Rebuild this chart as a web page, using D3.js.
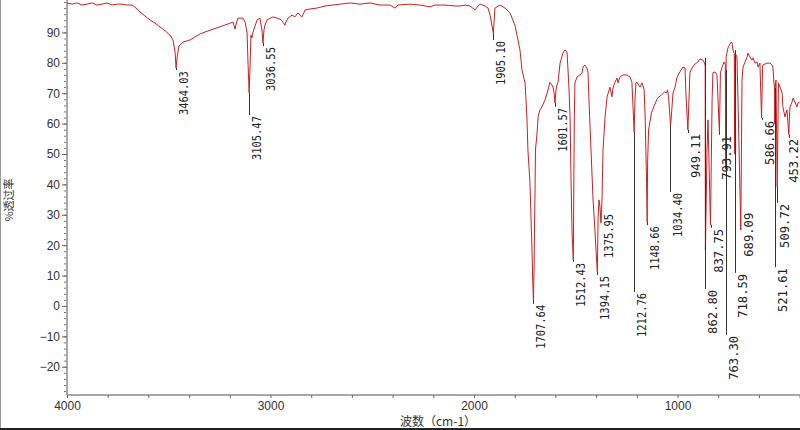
<!DOCTYPE html>
<html><head><meta charset="utf-8">
<script src="https://cdn.jsdelivr.net/npm/d3@7"></script>
<style>body{margin:0;background:#fff;} svg{display:block}</style>
</head><body><svg id="c" width="800" height="430"></svg>
<script>
const xLabelTicks = [4000, 3000, 2000, 1000];
const yLabelTicks = [-20, -10, 0, 10, 20, 30, 40, 50, 60, 70, 80, 90];
const xLabel = "波数（cm-1）";
const yLabel = "%透过率";

// spectrum: [wavenumber (cm-1), transmittance (%)]
const spectrum = [
[4000,99.7],[3975,99.3],[3951,99.7],[3926,99.0],[3902,99.3],[3877,99.7],[3853,99.0],[3828,99.3],[3803,99.7],[3779,99.0],[3754,99.3],[3730,99.3],[3705,99.0],[3681,99.0],[3661,98.0],[3641,96.7],[3617,95.4],[3592,94.1],[3568,93.1],[3543,91.8],[3518,90.5],[3494,89.1],[3479,87.5],[3469,83.6],[3464,78.3],[3459,81.6],[3450,85.5],[3430,86.8],[3396,87.5],[3346,89.5],[3307,90.5],[3263,91.5],[3224,92.4],[3184,93.4],[3174,91.1],[3170,92.4],[3160,94.7],[3135,94.7],[3125,93.4],[3115,89.8],[3111,81.0],[3105,70.1],[3101,77.6],[3096,89.1],[3091,88.2],[3086,90.1],[3071,93.1],[3066,94.1],[3052,94.7],[3042,90.8],[3037,86.5],[3032,90.8],[3027,92.4],[3017,94.1],[2988,95.1],[2953,94.4],[2939,93.4],[2929,92.4],[2924,93.4],[2914,94.7],[2894,95.7],[2880,95.1],[2865,96.4],[2845,95.1],[2830,97.4],[2806,97.7],[2772,98.0],[2732,98.7],[2693,99.0],[2658,99.3],[2609,99.7],[2560,99.3],[2511,99.7],[2462,99.0],[2413,99.0],[2388,98.0],[2373,99.0],[2315,99.3],[2265,99.0],[2216,98.4],[2192,99.0],[2142,99.0],[2093,98.7],[2069,98.7],[2044,99.0],[2020,98.7],[1995,97.4],[1980,98.7],[1970,99.3],[1946,98.7],[1931,98.0],[1921,95.7],[1905,89.8],[1897,98.0],[1872,99.0],[1848,98.0],[1823,96.4],[1799,92.4],[1784,87.5],[1774,84.2],[1764,77.6],[1749,73.4],[1740,62.2],[1735,51.3],[1725,40.5],[1720,29.3],[1715,18.4],[1711,7.6],[1708,2.0],[1705,11.9],[1703,24.0],[1700,38.2],[1698,51.3],[1690,56.9],[1685,62.2],[1676,64.5],[1666,65.5],[1651,67.8],[1636,71.1],[1627,73.6],[1617,72.7],[1612,72.0],[1607,70.4],[1602,66.8],[1597,71.1],[1592,72.7],[1587,73.6],[1577,79.9],[1563,83.2],[1553,84.2],[1543,83.6],[1538,77.6],[1533,71.1],[1528,62.2],[1523,40.5],[1518,24.0],[1512,15.1],[1510,34.9],[1507,62.2],[1504,73.4],[1494,75.3],[1479,76.0],[1469,76.7],[1464,78.6],[1455,79.3],[1445,78.3],[1440,77.0],[1435,67.8],[1425,51.3],[1415,34.9],[1405,24.0],[1399,16.8],[1394,11.2],[1390,29.3],[1386,34.9],[1381,32.6],[1376,27.3],[1371,34.9],[1366,51.3],[1356,62.2],[1346,68.8],[1332,72.0],[1322,68.8],[1317,71.7],[1307,73.6],[1297,75.0],[1292,73.4],[1283,75.3],[1268,76.0],[1248,76.0],[1233,75.3],[1224,73.6],[1213,57.2],[1209,67.8],[1204,73.4],[1199,73.6],[1184,72.0],[1174,73.4],[1164,71.1],[1159,62.2],[1152,40.5],[1149,27.6],[1147,47.0],[1142,57.9],[1128,63.5],[1113,66.1],[1098,68.4],[1079,69.4],[1064,70.4],[1054,70.1],[1049,71.1],[1044,68.8],[1034,59.2],[1027,65.5],[1022,70.1],[1012,72.0],[1002,75.3],[988,77.0],[973,78.6],[963,78.3],[958,68.8],[949,57.9],[939,76.7],[934,77.6],[919,79.3],[899,80.3],[889,81.3],[875,80.9],[867,79.9],[864,79.0],[863,18.4],[855,51.3],[850,61.2],[838,26.7],[830,67.8],[826,76.7],[816,77.0],[806,76.0],[794,57.2],[789,76.7],[781,78.6],[771,80.3],[765,79.5],[763,45.0],[761,82.0],[757,83.2],[752,84.9],[737,86.8],[732,86.5],[727,84.2],[721,83.0],[719,50.0],[717,82.0],[712,82.6],[708,81.9],[703,68.8],[689,25.0],[683,74.3],[678,78.6],[658,81.9],[654,83.2],[644,81.9],[634,80.9],[629,81.6],[619,79.9],[609,80.3],[604,78.6],[595,79.9],[587,61.9],[582,78.6],[580,79.3],[560,79.9],[545,79.9],[536,79.3],[531,78.6],[526,73.4],[523,72.0],[522,60.0],[520,72.0],[516,74.3],[510,39.2],[504,73.4],[496,72.0],[486,70.1],[482,65.5],[472,62.2],[462,64.5],[453,56.3],[450,62.2],[447,65.5],[437,67.1],[432,68.4],[423,67.1],[413,65.5],[408,66.8],[400,67.1]
];

const peakWn = [3464.03, 3105.47, 3036.55, 1905.10, 1707.64, 1601.57, 1512.43, 1394.15, 1375.95, 1212.76, 1148.66, 1034.40, 949.11, 862.80, 837.75, 793.91, 763.30, 718.59, 689.09, 586.66, 521.61, 509.72, 453.22];
const peakLineTop = [78.3, 70.1, 86.5, 89.8, 2.0, 66.8, 15.1, 11.2, 27.3, 57.2, 27.6, 59.2, 57.9, 81.6, 26.7, 57.2, 77.6, 84.2, 25.0, 61.9, 71.7, 39.2, 56.3];
const peakLabelTop = [77.6, 62.8, 85.5, 87.5, 0.7, 65.5, 14.5, 10.2, 30.6, 4.6, 26.6, 37.5, 56.9, 5.6, 25.7, 56.3, -9.5, 10.9, 31.0, 61.2, 12.8, 33.9, 55.3];

const svg = d3.select("#c");
const x = d3.scaleLinear().domain([4000, 400]).range([67, 799.6]);
const y = d3.scaleLinear().domain([-29.3, 100.66]).range([395, 0]);

// window frame bits
svg.append("line").attr("x1",0.5).attr("x2",0.5).attr("y1",0).attr("y2",430).attr("stroke","#9a9a9a").attr("stroke-width",1);
svg.append("line").attr("x1",0).attr("x2",800).attr("y1",429).attr("y2",429).attr("stroke","#222").attr("stroke-width",2);

const axisColor = "#a8a8a8";
const textColor = "#333";
const tickFont = "'Liberation Sans', Arial, sans-serif";

// y axis: minor ticks
const gyMinor = svg.append("g").attr("transform","translate(67,0)")
  .call(d3.axisLeft(y).tickValues(d3.range(-28, 101, 2)).tickSize(3).tickFormat(""));
gyMinor.select(".domain").remove();
gyMinor.selectAll("line").attr("stroke", "#777");
// y axis: major
const gy = svg.append("g").attr("transform","translate(67,0)")
  .call(d3.axisLeft(y).tickValues(yLabelTicks).tickSize(5).tickPadding(2).tickFormat(d3.format("d")));
gy.select(".domain").attr("stroke", axisColor).attr("stroke-width", 2).attr("d", "M0,0V395");
gy.selectAll("line").attr("stroke", "#666");
gy.selectAll("text").attr("fill", textColor).style("font-family", tickFont).style("font-size", "12px");

// x axis
const gx = svg.append("g").attr("transform","translate(0,395)")
  .call(d3.axisBottom(x).tickValues(d3.range(4000, 399, -200)).tickSize(3).tickPadding(3)
    .tickFormat(d => xLabelTicks.includes(d) ? String(d) : ""));
gx.select(".domain").attr("stroke", axisColor).attr("stroke-width", 2).attr("d", "M67,0H800");
gx.selectAll("line").attr("stroke", "#666");
gx.selectAll("text").attr("fill", textColor).style("font-family", tickFont).style("font-size", "12px");

// axis titles
svg.append("text").attr("x", 400).attr("y", 426).attr("fill", textColor)
  .style("font-family", "'Noto Sans CJK SC', sans-serif").style("font-size", "12px").text(xLabel);
svg.append("text").attr("transform", "translate(13,200) rotate(-90)").attr("text-anchor", "middle")
  .attr("fill", textColor).style("font-family", "'Noto Sans CJK SC', sans-serif").style("font-size", "11px").text(yLabel);

// spectrum
const line = d3.line().x(d => x(d[0])).y(d => y(d[1]));
svg.append("path").datum(spectrum).attr("d", line)
  .attr("fill", "none").attr("stroke", "#cc2020").attr("stroke-width", 1).attr("stroke-linejoin", "round");

// peak leaders and labels
const peaks = peakWn.map((w, i) => ({w, top: peakLineTop[i], lab: peakLabelTop[i]}));
svg.append("g").selectAll("line").data(peaks.filter(p => p.lab < p.top)).join("line")
  .attr("x1", p => Math.round(x(p.w)) + 0.5).attr("x2", p => Math.round(x(p.w)) + 0.5)
  .attr("y1", p => y(p.top)).attr("y2", p => y(p.lab))
  .attr("stroke", "#333").attr("stroke-width", 1);

svg.append("g").selectAll("text").data(peaks).join("text")
  .attr("transform", p => `translate(${Math.min(Math.round(x(p.w)) + 11.5, 798)},${y(p.lab) + 1}) rotate(-90)`)
  .attr("text-anchor", "end")
  .attr("fill", "#222")
  .attr("textLength", 44).attr("lengthAdjust", "spacingAndGlyphs")
  .style("font-family", "'DejaVu Sans Mono', monospace").style("font-size", "12px")
  .text(p => p.w.toFixed(2));
</script>
</body></html>
